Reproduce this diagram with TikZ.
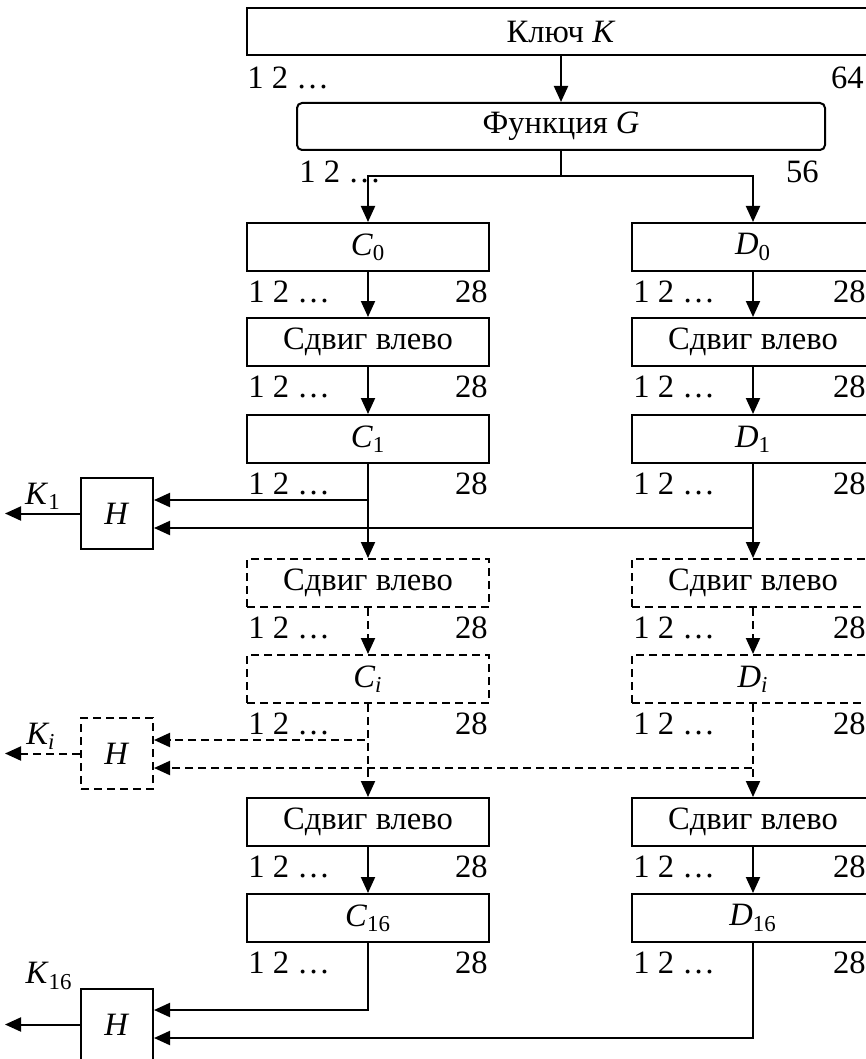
\documentclass[tikz,border=0pt]{standalone}
\usepackage{fontspec}
\setmainfont{Liberation Serif}
\usetikzlibrary{positioning,calc,arrows.meta}

\tikzset{
  blk/.style={draw, line width=1pt, minimum width=121pt, minimum height=24pt, inner sep=0pt},
  dsh/.style={dash pattern=on 4pt off 2.5pt},
  dblk/.style={blk, dsh},
  hblk/.style={draw, line width=1pt, minimum width=36pt, minimum height=35.5pt, inner sep=0pt},
  nums/.style={inner sep=0pt},
  arr/.style={line width=1pt, -{Triangle[length=8pt,width=7pt]}},
}

\begin{document}
\begin{tikzpicture}[x=0.5pt, y=-0.5pt, font=\fontsize{16.3}{19}\selectfont]
    \useasboundingbox (0,0) rectangle (866,1059);
    \clip (0,0) rectangle (866,1059);

    % Key and function G
    \node[blk, minimum width=314pt, minimum height=23.5pt] (key) at (561,31.5) {Ключ \textit{K}};
    \node[nums, anchor=west] (key-l) at ($(key.south west)+(1,22)$) {1 2 …};
    \node[nums, anchor=east] (key-r) at ($(key.south east)+(-12,22)$) {64};
    \node[blk, rounded corners=2.5pt, minimum width=264pt, minimum height=23.5pt] (G) at (561,126.5) {Функция \textit{G}};
    \node[nums, anchor=west] (G-l) at ($(G.south west)+(3,21)$) {1 2 …};
    \node[nums, anchor=east] (G-r) at ($(G.south east)+(-7,21)$) {56};

    % C column
    \node[blk] (C0) at (368,247) {\textit{C}\textsubscript{0}};
    \node[blk] (SC1) at (368,342) {Сдвиг влево};
    \node[blk] (C1) at (368,439) {\textit{C}\textsubscript{1}};
    \node[dblk] (SCi) at (368,583) {Сдвиг влево};
    \node[dblk] (Ci) at (368,679) {\textit{C\textsubscript{i}}};
    \node[blk] (SC16) at (368,822) {Сдвиг влево};
    \node[blk] (C16) at (368,918) {\textit{C}\textsubscript{16}};

    % D column
    \node[blk] (D0) at (753,247) {\textit{D}\textsubscript{0}};
    \node[blk] (SD1) at (753,342) {Сдвиг влево};
    \node[blk] (D1) at (753,439) {\textit{D}\textsubscript{1}};
    \node[dblk] (SDi) at (753,583) {Сдвиг влево};
    \node[dblk] (Di) at (753,679) {\textit{D\textsubscript{i}}};
    \node[blk] (SD16) at (753,822) {Сдвиг влево};
    \node[blk] (D16) at (753,918) {\textit{D}\textsubscript{16}};

    % bit numbers
    \foreach \b in {C0,SC1,C1,SCi,Ci,SC16,C16} {
        \node[nums, anchor=west] (\b-l) at ($(\b.south west)+(2,20)$) {1 2 …};
        \node[nums, anchor=east] (\b-r) at ($(\b.south east)+(-2,20)$) {28};
    }
    \foreach \b in {D0,SD1,D1,SDi,Di,SD16,D16} {
        \node[nums, anchor=west] (\b-l) at ($(\b.south west)+(2,20)$) {1 2 …};
        \node[nums, anchor=east] (\b-r) at ($(\b.south east)+(-9,20)$) {28};
    }

    % H blocks
    \node[hblk] (H1) at (117,513.5) {\textit{H}};
    \node[hblk, dsh] (Hi) at (117,753.5) {\textit{H}};
    \node[hblk] (H16) at (117,1024.5) {\textit{H}};
    \coordinate (k1) at (5,513.5);
    \coordinate (ki) at (5,753.5);
    \coordinate (k16) at (5,1024.5);
    \node (K1) at (43,496) {\textit{K}\textsubscript{1}};
    \node (Ki) at (41,736) {\textit{K\textsubscript{i}}};
    \node (K16) at (49,976) {\textit{K}\textsubscript{16}};

    % connectors
    \draw[arr] (key.south) -- (G.north);
    \draw[line width=1pt] (G.south) -- ++(0,25) coordinate (split);
    \draw[arr] (split) -| (C0.north);
    \draw[arr] (split) -| (D0.north);
    \draw[arr] (C0.south) -- (SC1.north);
    \draw[arr] (SC1.south) -- (C1.north);
    \draw[arr] (D0.south) -- (SD1.north);
    \draw[arr] (SD1.south) -- (D1.north);
    \draw[arr] (C1.south) |- ($(H1.east)+(0,-13.5)$);
    \draw[arr] (D1.south) |- ($(H1.east)+(0,14.5)$);
    \draw[arr] (C1.south) -- (SCi.north);
    \draw[arr] (D1.south) -- (SDi.north);
    \draw[arr] (H1.west) -- (k1);

    % i-th round
    \draw[arr, dsh] (SCi.south) -- (Ci.north);
    \draw[arr, dsh] (SDi.south) -- (Di.north);
    \draw[arr, dsh] (Ci.south) |- ($(Hi.east)+(0,-13.5)$);
    \draw[arr, dsh] (Di.south) |- ($(Hi.east)+(0,14.5)$);
    \draw[arr, dsh] (Ci.south) -- (SC16.north);
    \draw[arr, dsh] (Di.south) -- (SD16.north);
    \draw[arr, dsh] (Hi.west) -- (ki);

    % last round
    \draw[arr] (SC16.south) -- (C16.north);
    \draw[arr] (SD16.south) -- (D16.north);
    \draw[arr] (C16.south) |- ($(H16.east)+(0,-14.5)$);
    \draw[arr] (D16.south) |- ($(H16.east)+(0,13.5)$);
    \draw[arr] (H16.west) -- (k16);
\end{tikzpicture}
\end{document}
